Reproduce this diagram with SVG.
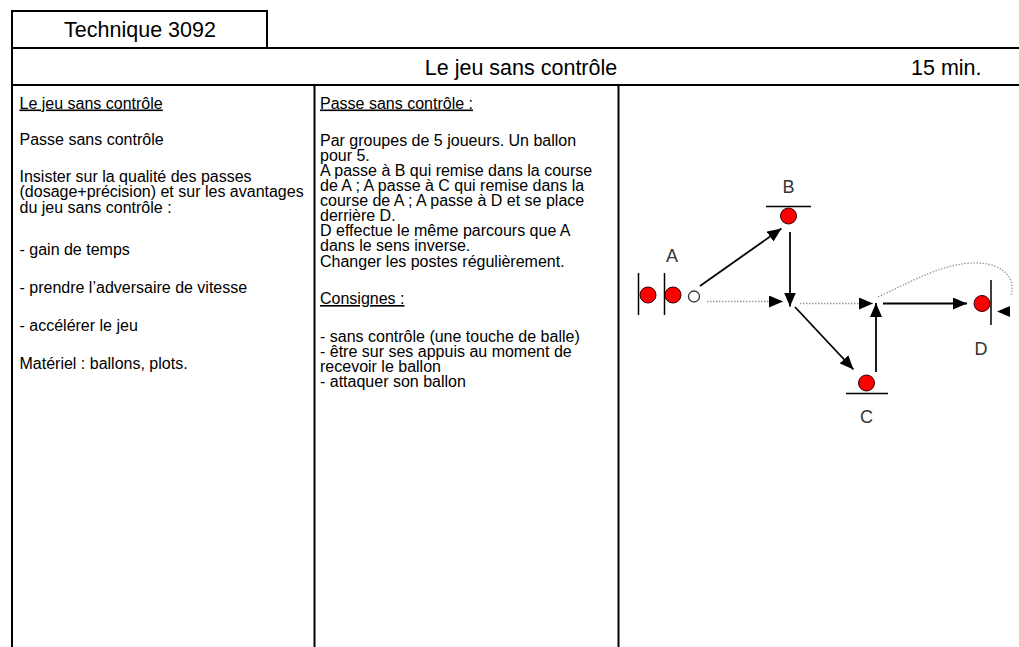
<svg xmlns="http://www.w3.org/2000/svg" width="1019" height="647" viewBox="0 0 1019 647">
<style>
.frame{fill:none;stroke:#000;stroke-width:2}
.hdr{font-family:"Liberation Sans",Arial,sans-serif;font-size:21.5px;fill:#000}
.body{font-family:"Liberation Sans",Arial,sans-serif;font-size:16px;fill:#000}
.u{text-decoration:underline}
.lbl{font-family:"Liberation Sans",Arial,sans-serif;font-size:18px;fill:#333;text-anchor:middle}
.player{fill:#f00;stroke:#300;stroke-width:1}
.ball{fill:#fff;stroke:#333;stroke-width:1.3}
.post{stroke:#000;stroke-width:1.5}
.pass{fill:none;stroke:#000;stroke-width:1.8}
.run{fill:none;stroke:#999;stroke-width:1.3;stroke-dasharray:1.5 1.5}
</style>
<defs>
<marker id="ah" viewBox="0 0 14 12" refX="14" refY="6" markerWidth="14" markerHeight="12" markerUnits="userSpaceOnUse" orient="auto"><path d="M0,0 L14,6 L0,12 z" fill="#000"/></marker>
</defs>
<g id="table">
<rect class="frame" x="12" y="11" width="255" height="37"/>
<path class="frame" d="M12,48 H1030 M12,85 H1030 M12,48 V647 M314.5,85 V647 M618.5,85 V647"/>
<text class="hdr" x="140" y="37" text-anchor="middle">Technique 3092</text>
<text class="hdr" x="521" y="75" text-anchor="middle">Le jeu sans contrôle</text>
<text class="hdr" x="911" y="75">15 min.</text>
</g>
<g id="col-left" class="body">
<text x="19.5" y="108.5" class="u">Le jeu sans contrôle</text>
<text x="19.5" y="145">Passe sans contrôle</text>
<text x="19.5" y="181.5">Insister sur la qualité des passes</text>
<text x="19.5" y="197">(dosage+précision) et sur les avantages</text>
<text x="19.5" y="212.5">du jeu sans contrôle :</text>
<text x="19.5" y="254.5">- gain de temps</text>
<text x="19.5" y="292.5">- prendre l’adversaire de vitesse</text>
<text x="19.5" y="330.5">- accélérer le jeu</text>
<text x="19.5" y="369">Matériel : ballons, plots.</text>
</g>
<g id="col-middle" class="body">
<text x="320" y="108.5" class="u">Passe sans contrôle :</text>
<text x="320" y="146">Par groupes de 5 joueurs. Un ballon</text>
<text x="320" y="161">pour 5.</text>
<text x="320" y="176">A passe à B qui remise dans la course</text>
<text x="320" y="191">de A ; A passe à C qui remise dans la</text>
<text x="320" y="206">course de A ; A passe à D et se place</text>
<text x="320" y="221">derrière D.</text>
<text x="320" y="236">D effectue le même parcours que A</text>
<text x="320" y="251">dans le sens inverse.</text>
<text x="320" y="266.5">Changer les postes régulièrement.</text>
<text x="320" y="304" class="u">Consignes :</text>
<text x="320" y="342">- sans contrôle (une touche de balle)</text>
<text x="320" y="357">- être sur ses appuis au moment de</text>
<text x="320" y="372">recevoir le ballon</text>
<text x="320" y="387">- attaquer son ballon</text>
</g>
<g id="node-A">
<line class="post" x1="638.5" y1="273" x2="638.5" y2="315"/>
<line class="post" x1="664.5" y1="273" x2="664.5" y2="315"/>
<circle class="player" cx="648" cy="295" r="8"/>
<circle class="player" cx="673" cy="295" r="8"/>
<circle class="ball" cx="694" cy="296.5" r="5.5"/>
<text class="lbl" x="672" y="262">A</text>
</g>
<g id="node-B">
<line class="post" x1="766" y1="206.5" x2="811" y2="206.5"/>
<circle class="player" cx="788.5" cy="216" r="8"/>
<text class="lbl" x="788.5" y="193">B</text>
</g>
<g id="node-C">
<line class="post" x1="846" y1="393.5" x2="888" y2="393.5"/>
<circle class="player" cx="866.5" cy="383" r="8"/>
<text class="lbl" x="866.5" y="423">C</text>
</g>
<g id="node-D">
<line class="post" x1="991" y1="280" x2="991" y2="325"/>
<circle class="player" cx="982" cy="303.5" r="8"/>
<text class="lbl" x="981" y="355">D</text>
</g>
<g id="connectors">
<line class="pass" x1="700" y1="286" x2="781.5" y2="228.5" marker-end="url(#ah)"/>
<line class="pass" x1="790" y1="232" x2="790" y2="306.5" marker-end="url(#ah)"/>
<line class="pass" x1="795" y1="307" x2="853.5" y2="369.5" marker-end="url(#ah)"/>
<line class="pass" x1="876" y1="372" x2="876" y2="303" marker-end="url(#ah)"/>
<line class="pass" x1="883" y1="303.5" x2="967" y2="303.5" marker-end="url(#ah)"/>
<line class="run" x1="707" y1="301.5" x2="783" y2="301.5" marker-end="url(#ah)"/>
<line class="run" x1="800" y1="303.5" x2="873" y2="303.5" marker-end="url(#ah)"/>
<path class="run" d="M878,297 C915,280 945,262 978,263 C1005,264 1016,280 1011,295"/>
<path d="M997,311.5 L1010,306 L1010,317 z" fill="#000"/>
</g>
</svg>
